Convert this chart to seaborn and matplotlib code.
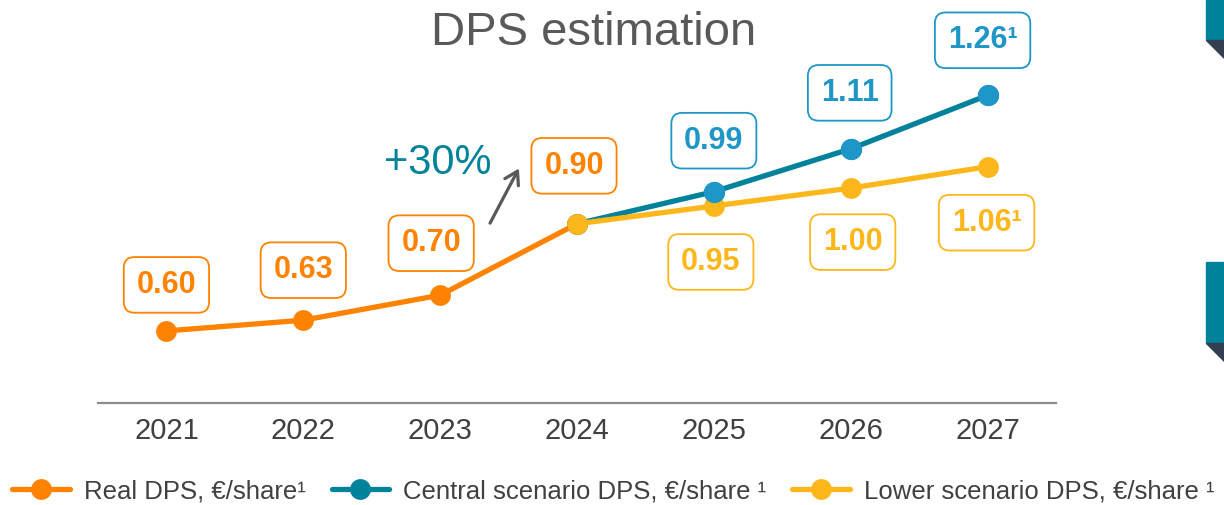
import matplotlib
matplotlib.use('Agg')
import matplotlib.pyplot as plt
import matplotlib.patches as mpatches
import pandas as pd
import seaborn as sns

# ============================
# Datos del gráfico
# ============================
years = [2021, 2022, 2023, 2024, 2025, 2026, 2027]
real_years = [2021, 2022, 2023, 2024]
real_dps = [0.60, 0.63, 0.70, 0.90]
scen_years = [2024, 2025, 2026, 2027]
central_dps = [0.90, 0.99, 1.11, 1.26]
lower_dps = [0.90, 0.95, 1.00, 1.06]
series_names = ['Real DPS, €/share¹', 'Central scenario DPS, €/share ¹', 'Lower scenario DPS, €/share ¹']
footnoted_years = [2027]
growth_label = '+30%'

# Colores
ORANGE = '#FF8200'
TEAL = '#00829B'
BLUE = '#1E96C8'
YELLOW = '#FDB71A'
GREY_TXT = '#404040'

sns.set_style('white')
plt.rcParams['font.family'] = ['Liberation Sans', 'DejaVu Sans']

fig = plt.figure(figsize=(12.24, 5.05), dpi=100)
ax = fig.add_axes([98 / 1224, 1 - 403 / 505, 958 / 1224, 403 / 505])

df_real = pd.DataFrame({'year': real_years, 'dps': real_dps})
df_central = pd.DataFrame({'year': scen_years, 'dps': central_dps})
df_lower = pd.DataFrame({'year': scen_years, 'dps': lower_dps})

line_kw = dict(marker='o', markersize=15, markeredgewidth=0, linewidth=3.8)
sns.lineplot(data=df_real, x='year', y='dps', color=ORANGE, label=series_names[0],
             zorder=3, ax=ax, **line_kw)
sns.lineplot(data=df_central, x='year', y='dps', color=TEAL, label=series_names[1],
             zorder=3, ax=ax, **line_kw)
sns.lineplot(data=df_lower, x='year', y='dps', color=YELLOW, label=series_names[2],
             zorder=4, ax=ax, **line_kw)
# marcadores azules del escenario central (por encima)
sns.scatterplot(data=df_central.iloc[1:], x='year', y='dps', color=BLUE, s=235,
                linewidth=0, zorder=5, ax=ax, legend=False)

# Etiquetas con recuadro
def label(year, value, color, dx, dy):
    txt = f'{value:.2f}' + ('¹' if year in footnoted_years and year not in real_years else '')
    ax.annotate(txt, (year, value), xytext=(dx, dy), textcoords='offset pixels',
                ha='center', va='center', fontsize=22, fontweight='bold', color=color,
                bbox=dict(boxstyle='round,pad=0.42,rounding_size=0.35', fc='white',
                          ec=color, lw=1.3), zorder=6)

real_off = [(0, 46), (0, 50), (-9, 52), (-3, 58)]
for (y, v), (dx, dy) in zip(zip(real_years, real_dps), real_off):
    label(y, v, ORANGE, dx, dy)
central_off = [(0, 51), (-1, 56), (-5, 55)]
for (y, v), (dx, dy) in zip(zip(scen_years[1:], central_dps[1:]), central_off):
    label(y, v, BLUE, dx, dy)
lower_off = [(-3, -56), (2, -54), (-1, -56)]
for (y, v), (dx, dy) in zip(zip(scen_years[1:], lower_dps[1:]), lower_off):
    label(y, v, YELLOW, dx, dy)

# Anotación de crecimiento
ax.annotate('', xy=(2023.585, 1.062), xytext=(2023.355, 0.895),
            arrowprops=dict(arrowstyle='->,head_length=0.9,head_width=0.55',
                            color='#595959', lw=2.3))
ax.text(2022.59, 1.071, growth_label, fontsize=30, color=TEAL,
        ha='left', va='center')

# Ejes
ax.set_xlim(2020.5, 2027.5)
ax.set_ylim(0.398, 1.527)
ax.set_xticks(years)
ax.set_xticklabels([str(y) for y in years])
ax.set_yticks([])
ax.set_xlabel('')
ax.set_ylabel('')
for s in ['top', 'left', 'right']:
    ax.spines[s].set_visible(False)
ax.spines['bottom'].set_color('#8C8C8C')
ax.spines['bottom'].set_linewidth(1.6)
ax.tick_params(axis='x', length=0, pad=10, labelsize=21, labelcolor=GREY_TXT)
ax.set_facecolor('none')

fig.text(594 / 1224, 1 - 33 / 505, 'DPS estimation', fontsize=34, color='#595959',
         ha='center', va='center')

# Leyenda
handles, labels_ = ax.get_legend_handles_labels()
ax.get_legend().remove()
fig.legend(handles, labels_, loc='center left', bbox_to_anchor=(12 / 1224, 1 - 491 / 505),
           ncol=3, frameon=False, fontsize=18.5, handlelength=2.25, handletextpad=0.55,
           columnspacing=1.0, borderpad=0, borderaxespad=0, labelcolor=GREY_TXT)

# Decoración del borde derecho
for top, bot in [(0, 40), (262, 343)]:
    fig.patches.append(mpatches.Rectangle((1206 / 1224, 1 - bot / 505), 18 / 1224,
                                          (bot - top) / 505, transform=fig.transFigure,
                                          color='#00829B', zorder=0))
    fig.patches.append(mpatches.Polygon([(1206 / 1224, 1 - bot / 505), (1, 1 - bot / 505),
                                         (1, 1 - (bot + 18) / 505)],
                                        transform=fig.transFigure, color='#333F50', zorder=0))

fig.savefig('out.png', dpi=100)
